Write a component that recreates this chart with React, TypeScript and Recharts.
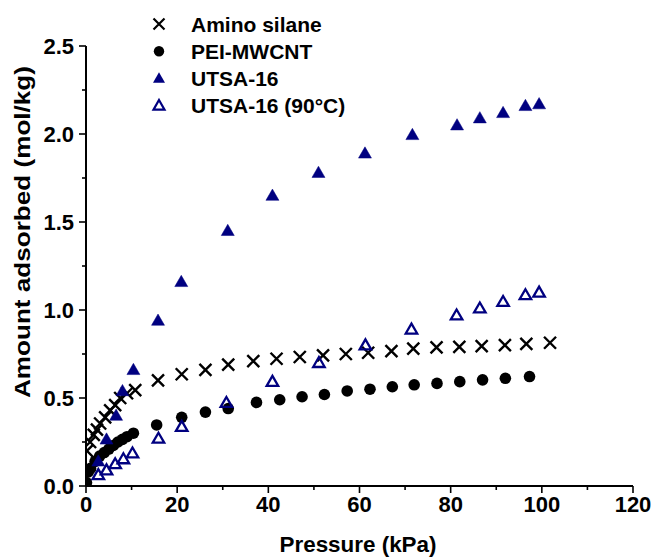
import React from 'react';
import { ScatterChart, Scatter, XAxis, YAxis, Legend, Label } from 'recharts';

const FONT = '"Liberation Sans", Arial, Helvetica, sans-serif';
const NAVY = '#000080';

const seriesNames = ['Amino silane', 'PEI-MWCNT', 'UTSA-16', 'UTSA-16 (90°C)'];

const aminoX = [0.2, 0.9, 1.7, 2.4, 3.1, 4.2, 5.3, 6.4, 7.5, 9.0, 10.8, 15.8, 21, 26.2, 31.2, 36.7, 41.8, 46.9, 52, 57, 61.9, 67, 71.8, 76.9, 81.9, 86.8, 91.9, 96.6, 101.8];
const aminoY = [0.2, 0.25, 0.29, 0.32, 0.355, 0.39, 0.43, 0.46, 0.5, 0.527, 0.545, 0.6, 0.635, 0.66, 0.69, 0.71, 0.723, 0.733, 0.742, 0.75, 0.757, 0.766, 0.78, 0.788, 0.79, 0.795, 0.8, 0.807, 0.814];

const peiX = [0.1, 0.5, 1, 2, 3, 4, 5, 6, 7, 8, 9, 10.4, 15.5, 21, 26.2, 31.2, 37.4, 42.5, 47.4, 52.3, 57.3, 62.3, 67.2, 72, 77, 82, 87, 92, 97.3];
const peiY = [0.02, 0.08, 0.1, 0.14, 0.17, 0.19, 0.21, 0.23, 0.25, 0.265, 0.28, 0.3, 0.347, 0.39, 0.42, 0.44, 0.475, 0.49, 0.507, 0.52, 0.54, 0.55, 0.564, 0.575, 0.583, 0.593, 0.603, 0.612, 0.622];

const utsaX = [2.7, 4.5, 6.6, 8.0, 10.4, 15.8, 20.9, 31.1, 40.9, 51, 61.2, 71.6, 81.4, 86.4, 91.5, 96.4, 99.4];
const utsaY = [0.14, 0.265, 0.4, 0.54, 0.66, 0.94, 1.16, 1.45, 1.65, 1.78, 1.89, 1.995, 2.05, 2.09, 2.12, 2.16, 2.17];

const utsa90X = [2.7, 4.5, 6.4, 8.2, 10.2, 15.9, 21, 30.8, 40.9, 51.1, 61.3, 71.4, 81.3, 86.4, 91.5, 96.4, 99.4];
const utsa90Y = [0.063, 0.09, 0.125, 0.153, 0.186, 0.27, 0.337, 0.473, 0.593, 0.7, 0.8, 0.89, 0.97, 1.01, 1.047, 1.085, 1.1];

const xTicks = [0, 10, 20, 30, 40, 50, 60, 70, 80, 90, 100, 110, 120];
const yTicks = [0, 0.25, 0.5, 0.75, 1, 1.25, 1.5, 1.75, 2, 2.25, 2.5];

const zip = (xs: number[], ys: number[]) => xs.map((x, i) => ({ x, y: ys[i] }));

const crossPath = (cx: number, cy: number, s: number) =>
  `M${cx - s},${cy - s}L${cx + s},${cy + s}M${cx - s},${cy + s}L${cx + s},${cy - s}`;
const triPath = (cx: number, cy: number, w: number) => {
  const h = w * 0.866;
  return `M${cx},${cy - 0.58 * h}L${cx + w / 2},${cy + 0.42 * h}L${cx - w / 2},${cy + 0.42 * h}Z`;
};

const CrossShape = (p: any) => (
  <path d={crossPath(p.cx, p.cy, 6)} stroke="#000" strokeWidth={2.4} fill="none" />
);
const DotShape = (p: any) => <circle cx={p.cx} cy={p.cy} r={5.8} fill="#000" />;
const TriFilled = (p: any) => <path d={triPath(p.cx, p.cy, 13)} fill={NAVY} stroke={NAVY} strokeWidth={0.5} />;
const TriOpen = (p: any) => <path d={triPath(p.cx, p.cy, 11.5)} fill="none" stroke={NAVY} strokeWidth={2.3} />;

const XTick = (p: any) => {
  const { x, y, payload } = p;
  const v = payload.value;
  const major = v % 20 === 0;
  return (
    <g>
      <line x1={x} x2={x} y1={y} y2={y + (major ? 7 : 4)} stroke="#000" strokeWidth={1.6} />
      {major && (
        <text x={x} y={y + 26} textAnchor="middle" fontSize={22} fontWeight="bold" fontFamily={FONT} fill="#000">
          {v}
        </text>
      )}
    </g>
  );
};

const YTick = (p: any) => {
  const { x, y, payload } = p;
  const v = payload.value;
  const major = Math.abs(v * 2 - Math.round(v * 2)) < 1e-6;
  return (
    <g>
      <line x1={x} x2={x - (major ? 7 : 4)} y1={y} y2={y} stroke="#000" strokeWidth={1.6} />
      {major && (
        <text x={x - 12} y={y + 8} textAnchor="end" fontSize={22} fontWeight="bold" fontFamily={FONT} fill="#000">
          {v.toFixed(1)}
        </text>
      )}
    </g>
  );
};

const LegendContent = () => {
  const rows = [
    (cx: number, cy: number) => <path d={crossPath(cx, cy, 5.5)} stroke="#000" strokeWidth={2.2} fill="none" />,
    (cx: number, cy: number) => <circle cx={cx} cy={cy} r={5.2} fill="#000" />,
    (cx: number, cy: number) => <path d={triPath(cx, cy, 12)} fill={NAVY} />,
    (cx: number, cy: number) => <path d={triPath(cx, cy, 11)} fill="none" stroke={NAVY} strokeWidth={2.2} />,
  ];
  return (
    <svg width={360} height={125} style={{ display: 'block', overflow: 'visible' }}>
      {seriesNames.map((name, i) => {
        const cy = 24 + i * 27.2;
        return (
          <g key={name}>
            {rows[i](159, cy)}
            <text x={191} y={cy + 7.5} fontSize={21} fontWeight="bold" fontFamily={FONT} fill="#000">
              {name}
            </text>
          </g>
        );
      })}
    </svg>
  );
};

export default function App() {
  return (
    <div style={{ position: 'absolute', left: 0, top: 0, background: '#fff' }}>
      <ScatterChart width={652} height={559} margin={{ top: 46, right: 19, bottom: 0, left: 0 }}>
        <XAxis
          type="number"
          dataKey="x"
          domain={[0, 120]}
          ticks={xTicks}
          interval={0}
          height={73}
          tickSize={0}
          tickMargin={0}
          tickLine={false}
          tick={<XTick />}
          axisLine={{ stroke: '#000', strokeWidth: 2 }}
          allowDataOverflow
        >
          <Label
            content={() => (
              <text
                x={358}
                y={552}
                textAnchor="middle"
                fontSize={21.5}
                fontWeight="bold"
                fontFamily={FONT}
                fill="#000"
                textLength={157}
                lengthAdjust="spacingAndGlyphs"
              >
                Pressure (kPa)
              </text>
            )}
          />
        </XAxis>
        <YAxis
          type="number"
          dataKey="y"
          domain={[0, 2.5]}
          ticks={yTicks}
          interval={0}
          width={86}
          tickSize={0}
          tickMargin={0}
          tickLine={false}
          tick={<YTick />}
          axisLine={{ stroke: '#000', strokeWidth: 2 }}
          allowDataOverflow
        >
          <Label
            content={() => (
              <text
                x={30}
                y={232}
                textAnchor="middle"
                fontSize={21.5}
                fontWeight="bold"
                fontFamily={FONT}
                fill="#000"
                textLength={332}
                lengthAdjust="spacingAndGlyphs"
                transform="rotate(-90, 30, 232)"
              >
                Amount adsorbed (mol/kg)
              </text>
            )}
          />
        </YAxis>
        <Legend
          layout="vertical"
          align="center"
          verticalAlign="middle"
          content={<LegendContent />}
          wrapperStyle={{ position: 'absolute', left: 0, top: 0, width: 360, height: 125 }}
        />
        <Scatter name={seriesNames[0]} data={zip(aminoX, aminoY)} shape={CrossShape} isAnimationActive={false} />
        <Scatter name={seriesNames[1]} data={zip(peiX, peiY)} shape={DotShape} isAnimationActive={false} />
        <Scatter name={seriesNames[2]} data={zip(utsaX, utsaY)} shape={TriFilled} isAnimationActive={false} />
        <Scatter name={seriesNames[3]} data={zip(utsa90X, utsa90Y)} shape={TriOpen} isAnimationActive={false} />
      </ScatterChart>
    </div>
  );
}
